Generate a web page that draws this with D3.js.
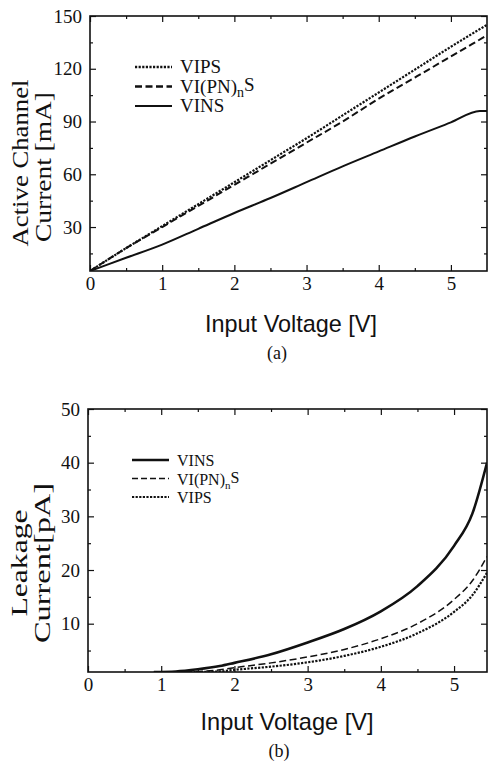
<!DOCTYPE html>
<html><head><meta charset="utf-8">
<script src="https://cdn.jsdelivr.net/npm/d3@7"></script>
<style>
html,body{margin:0;padding:0;background:#fff;}
svg{display:block;}
.serif{font-family:"Liberation Serif","Times New Roman",Times,serif;}
.sans{font-family:"Liberation Sans",Arial,Helvetica,sans-serif;}
</style></head>
<body>
<svg id="chart" width="488" height="762"></svg>
<script>
// ---------- data ----------
const xMajorTicks = [0, 1, 2, 3, 4, 5];
const xMinorTicks = [0.5, 1.5, 2.5, 3.5, 4.5];

// Panel (a): Active channel current [mA]
const aYTicks = [30, 60, 90, 120, 150];
const aYMinor = [15, 45, 75, 105, 135];
const aX = [0, 0.5, 1, 1.5, 2, 2.5, 3, 3.5, 4, 4.5, 5, 5.5];
const aVIPS = [5, 18, 30.5, 43, 55.5, 68, 80.5, 93.5, 106.5, 119.5, 132.5, 145];
const aVIPN = [5, 18, 30, 42, 54, 66, 78, 90, 103, 115, 127, 139];
const aXins = [0, 0.5, 1, 1.5, 2, 2.5, 3, 3.5, 4, 4.5, 5, 5.4, 5.5];
const aVINS = [5, 12.5, 20, 29, 38, 46.5, 55.5, 64.5, 73, 81.5, 89.5, 96, 96];

// Panel (b): Leakage current [pA]
const bYTicks = [10, 20, 30, 40, 50];
const bYMinor = [5, 15, 25, 35, 45];
const bX = [0.9, 1.2, 1.5, 1.8, 2, 2.5, 3, 3.5, 4, 4.5, 5, 5.25, 5.45];
const bVINS = [1, 1.1, 1.5, 2.1, 2.7, 4.3, 6.5, 9, 12.3, 17, 24.5, 30.5, 40];
const bVIPN = [1, 1, 1.1, 1.4, 1.8, 2.7, 3.8, 5.2, 7.2, 10, 14.5, 18, 22.5];
const bVIPS = [1, 1, 1, 1.1, 1.4, 2, 2.8, 4, 5.7, 8.2, 12.2, 15.3, 19.5];

const svg = d3.select("#chart");
const INK = "#111";

function panel(o) {
  const x = d3.scaleLinear().domain(o.xDomain).range([o.left, o.right]);
  const y = d3.scaleLinear().domain(o.yDomain).range([o.bottom, o.top]);
  const g = svg.append("g");
  const clipId = "clip" + o.id;
  svg.append("clipPath").attr("id", clipId).append("rect")
    .attr("x", o.left).attr("y", o.top).attr("width", o.right - o.left).attr("height", o.bottom - o.top);

  function styleAxis(sel) {
    sel.attr("font-family", null).attr("font-size", null);
    sel.select(".domain").remove();
    sel.selectAll("line").attr("stroke", INK).attr("stroke-width", 1.2);
    sel.selectAll("text").attr("class", "serif").style("font-size", "19px").attr("fill", INK);
  }
  // bottom
  g.append("g").attr("transform", `translate(0,${o.bottom})`)
    .call(d3.axisBottom(x).tickValues(xMajorTicks).tickSize(-6).tickPadding(6).tickFormat(d3.format("d"))).call(styleAxis);
  g.append("g").attr("transform", `translate(0,${o.bottom})`)
    .call(d3.axisBottom(x).tickValues(xMinorTicks).tickSize(-3).tickFormat("")).call(styleAxis);
  // top
  g.append("g").attr("transform", `translate(0,${o.top})`)
    .call(d3.axisTop(x).tickValues(xMajorTicks).tickSize(-6).tickFormat("")).call(styleAxis);
  g.append("g").attr("transform", `translate(0,${o.top})`)
    .call(d3.axisTop(x).tickValues(xMinorTicks).tickSize(-3).tickFormat("")).call(styleAxis);
  // left
  g.append("g").attr("transform", `translate(${o.left},0)`)
    .call(d3.axisLeft(y).tickValues(o.yTicks).tickSize(-6).tickPadding(8).tickFormat(d3.format("d"))).call(styleAxis);
  g.append("g").attr("transform", `translate(${o.left},0)`)
    .call(d3.axisLeft(y).tickValues(o.yMinor).tickSize(-3).tickFormat("")).call(styleAxis);
  // right
  g.append("g").attr("transform", `translate(${o.right},0)`)
    .call(d3.axisRight(y).tickValues(o.yTicks).tickSize(-6).tickFormat("")).call(styleAxis);
  g.append("g").attr("transform", `translate(${o.right},0)`)
    .call(d3.axisRight(y).tickValues(o.yMinor).tickSize(-3).tickFormat("")).call(styleAxis);

  // frame
  g.append("rect").attr("x", o.left).attr("y", o.top)
    .attr("width", o.right - o.left).attr("height", o.bottom - o.top)
    .attr("fill", "none").attr("stroke", INK).attr("stroke-width", 1.6);

  // series
  const line = d3.line().x(d => x(d[0])).y(d => y(d[1])).curve(d3.curveMonotoneX);
  o.series.forEach(s => {
    g.append("path").datum(d3.zip(s.x, s.y))
      .attr("d", line).attr("clip-path", `url(#${clipId})`)
      .attr("fill", "none").attr("stroke", INK)
      .attr("stroke-width", s.w).attr("stroke-dasharray", s.dash || null);
  });

  // legend
  o.legend.forEach((s, i) => {
    const ly = o.legendY + i * o.legendStep;
    g.append("line").attr("x1", o.legendX).attr("x2", o.legendX + 37)
      .attr("y1", ly).attr("y2", ly).attr("stroke", INK)
      .attr("stroke-width", s.w + 0.3).attr("stroke-dasharray", s.dash || null);
    const t = g.append("text").attr("class", "serif").attr("x", o.legendX + 45).attr("y", ly + 6)
      .style("font-size", o.legendFont + "px").attr("fill", INK);
    if (s.sub) {
      t.append("tspan").text(s.main);
      t.append("tspan").attr("dy", 4).style("font-size", (o.legendFont - 5) + "px").text(s.sub);
      t.append("tspan").attr("dy", -6).text(s.tail);
    } else {
      t.text(s.main);
    }
  });

  // y title (two lines, rotated)
  o.yTitle.forEach(l => {
    g.append("text").attr("class", "serif").attr("transform", `translate(${l.x},${l.cy}) rotate(-90)`)
      .attr("text-anchor", "middle").style("font-size", "23px")
      .attr("fill", INK).attr("textLength", l.len).attr("lengthAdjust", "spacingAndGlyphs")
      .text(l.text);
  });
  // x title
  g.append("text").attr("class", "sans").attr("x", o.xTitle.cx).attr("y", o.xTitle.y).attr("text-anchor", "middle")
    .style("font-size", "24px").attr("fill", INK)
    .attr("textLength", o.xTitle.len).attr("lengthAdjust", "spacingAndGlyphs")
    .text("Input Voltage [V]");
  g.append("text").attr("class", "serif").attr("x", o.caption.cx).attr("y", o.caption.y).attr("text-anchor", "middle")
    .style("font-size", "18px").attr("fill", INK).text(o.caption.text);
}

const dotted = "2.2,1.4", dashed = "7,3.5";

panel({
  id: "a", left: 90, right: 487, top: 16, bottom: 271,
  xDomain: [0, 5.5], yDomain: [5, 150], yTicks: aYTicks, yMinor: aYMinor,
  series: [
    { x: aX, y: aVIPS, w: 2.2, dash: dotted },
    { x: aX, y: aVIPN, w: 2, dash: dashed },
    { x: aXins, y: aVINS, w: 2 }
  ],
  legend: [
    { main: "VIPS", w: 2.2, dash: dotted },
    { main: "VI(PN)", sub: "n", tail: "S", w: 2, dash: dashed },
    { main: "VINS", w: 1.6 }
  ],
  legendX: 135, legendY: 67, legendStep: 19.5, legendFont: 19,
  yTitle: [
    { text: "Active Channel", x: 28, cy: 163, len: 167 },
    { text: "Current [mA]", x: 51, cy: 167, len: 150 }
  ],
  xTitle: { cx: 291, y: 332, len: 172 },
  caption: { cx: 277, y: 359, text: "(a)" }
});

panel({
  id: "b", left: 88, right: 487, top: 409, bottom: 672,
  xDomain: [0, 5.45], yDomain: [1, 50], yTicks: bYTicks, yMinor: bYMinor,
  series: [
    { x: bX, y: bVINS, w: 2.6 },
    { x: bX, y: bVIPN, w: 1.5, dash: dashed },
    { x: bX, y: bVIPS, w: 2.2, dash: dotted }
  ],
  legend: [
    { main: "VINS", w: 2.3 },
    { main: "VI(PN)", sub: "n", tail: "S", w: 1.3, dash: "6,3" },
    { main: "VIPS", w: 1.8, dash: dotted }
  ],
  legendX: 132, legendY: 460, legendStep: 18.5, legendFont: 16,
  yTitle: [
    { text: "Leakage", x: 27, cy: 563, len: 107 },
    { text: "Current[pA]", x: 50, cy: 563, len: 160 }
  ],
  xTitle: { cx: 287, y: 730, len: 173 },
  caption: { cx: 279, y: 757, text: "(b)" }
});
</script>
</body></html>
